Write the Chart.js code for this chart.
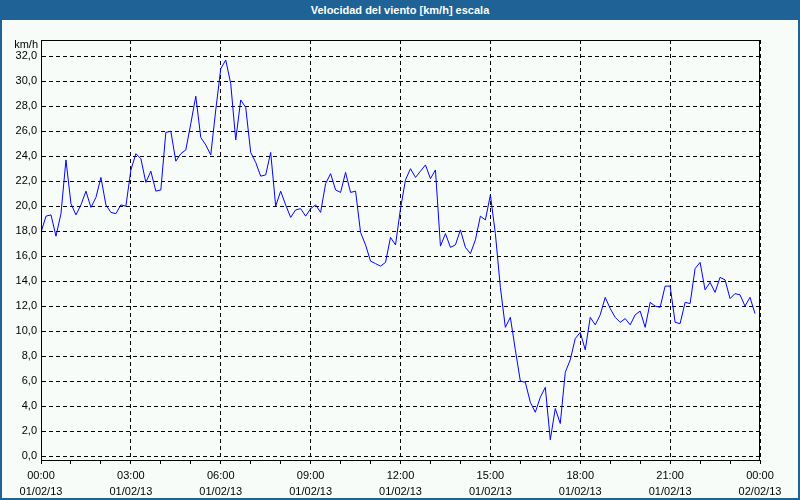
<!DOCTYPE html>
<html>
<head>
<meta charset="utf-8">
<script src="https://cdn.jsdelivr.net/npm/chart.js@4"></script>
<style>
  body { margin: 0; background: #ffffff; }
  #page { position: relative; width: 800px; height: 500px; background: #f8fcf8; overflow: hidden; }
  #title { position: absolute; left: 0; top: 0; width: 800px; height: 20px; background: #1e6296;
           color: #ffffff; font: bold 11px "Liberation Sans", sans-serif; text-align: center; line-height: 21px; }
  #frame { position: absolute; left: 0; top: 20px; width: 796px; height: 478px;
           border-left: 2px solid #1e6296; border-right: 2px solid #1e6296; border-bottom: 2px solid #1e6296; }
  #chart { position: absolute; left: 0; top: 20px; }
</style>
</head>
<body>
<div id="page">
  <div id="title">Velocidad del viento [km/h] escala</div>
  <div id="frame"></div>
  <canvas id="chart" width="800" height="480"></canvas>
</div>
<script>
// wind speed every 10 minutes, 01/02/13 00:00 .. 23:50
const windSpeed = [
  17.9, 19.2, 19.3, 17.6, 19.4, 23.7, 20.2, 19.3, 20.1, 21.2, 19.9, 20.7,
  22.3, 20.1, 19.5, 19.4, 20.1, 20.0, 22.9, 24.2, 23.8, 21.9, 22.8, 21.2,
  21.3, 25.9, 26.0, 23.6, 24.2, 24.5, 26.6, 28.8, 25.5, 24.9, 24.1, 27.7,
  31.0, 31.7, 29.8, 25.3, 28.5, 27.9, 24.3, 23.5, 22.4, 22.5, 24.3, 20.0,
  21.2, 20.1, 19.1, 19.7, 19.8, 19.2, 19.8, 20.1, 19.5, 21.8, 22.6, 21.3,
  21.1, 22.7, 21.1, 21.2, 17.9, 16.9, 15.6, 15.4, 15.2, 15.5, 17.5, 16.9,
  19.8, 22.1, 23.0, 22.3, 22.8, 23.3, 22.2, 22.9, 16.8, 17.8, 16.7, 16.9,
  18.1, 16.7, 16.2, 17.3, 19.2, 18.9, 20.9, 17.8, 13.5, 10.3, 11.1, 8.5,
  6.0, 5.9, 4.3, 3.5, 4.7, 5.5, 1.3, 3.8, 2.6, 6.7, 7.7, 9.4,
  9.9, 8.5, 11.1, 10.5, 11.3, 12.7, 11.8, 11.1, 10.7, 11.0, 10.5, 11.3,
  11.6, 10.3, 12.3, 12.0, 11.9, 13.6, 13.6, 10.7, 10.6, 12.3, 12.2, 15.0,
  15.5, 13.3, 13.9, 13.1, 14.3, 14.1, 12.6, 13.0, 12.9, 12.0, 12.7, 11.4
];
const stepMinutes = 10;
const timeLabels = ['00:00', '03:00', '06:00', '09:00', '12:00', '15:00', '18:00', '21:00', '00:00'];
const dateLabels = ['01/02/13', '01/02/13', '01/02/13', '01/02/13', '01/02/13', '01/02/13', '01/02/13', '01/02/13', '02/02/13'];
const yTicks = [0, 2, 4, 6, 8, 10, 12, 14, 16, 18, 20, 22, 24, 26, 28, 30, 32];

const points = windSpeed.map((v, i) => ({ x: i * stepMinutes, y: v }));

const boxAndUnit = {
  id: 'boxAndUnit',
  afterDraw(chart) {
    const { ctx, chartArea: a } = chart;
    ctx.save();
    ctx.strokeStyle = '#000000';
    ctx.lineWidth = 1;
    ctx.strokeRect(a.left + 0.5, a.top + 0.5, a.right - a.left - 1, a.bottom - a.top);
    ctx.fillStyle = '#000000';
    ctx.font = '11px "Liberation Sans", sans-serif';
    ctx.textAlign = 'right';
    ctx.textBaseline = 'middle';
    ctx.fillText('km/h', 38, a.top + 5);
    ctx.restore();
  }
};

Chart.defaults.font.family = '"Liberation Sans", sans-serif';
Chart.defaults.font.size = 11;
Chart.defaults.color = '#000000';

new Chart(document.getElementById('chart'), {
  type: 'line',
  data: {
    datasets: [{
      data: points,
      borderColor: '#0000ff',
      borderWidth: 1,
      pointRadius: 0,
      tension: 0,
      fill: false
    }]
  },
  options: {
    responsive: false,
    animation: false,
    devicePixelRatio: 1,
    layout: { padding: { left: 0, right: 40, top: 20, bottom: 0 } },
    plugins: { legend: { display: false }, tooltip: { enabled: false } },
    scales: {
      x: {
        type: 'linear',
        min: 0,
        max: 1440,
        afterFit: (scale) => { scale.height = 40; },
        ticks: {
          stepSize: 60,
          autoSkip: false,
          maxRotation: 0,
          padding: 4,
          font: { size: 11, lineHeight: 1.45 },
          callback: (value) => value % 180 === 0 ? [timeLabels[value / 180], dateLabels[value / 180]] : ''
        },
        grid: {
          color: (ctx) => ctx.tick && ctx.tick.value % 180 === 0 ? '#000000' : 'rgba(0,0,0,0)',
          tickColor: '#000000',
          tickLength: 4,
          lineWidth: 1
        },
        border: { display: true, color: '#000000', width: 1, dash: [4, 3] }
      },
      y: {
        min: -0.32,
        max: 33.3,
        afterFit: (scale) => { scale.width = 41; },
        afterBuildTicks: (scale) => { scale.ticks = yTicks.map(v => ({ value: v })); },
        ticks: {
          padding: 4,
          font: { size: 11 },
          callback: (value) => value.toFixed(1).replace('.', ',')
        },
        grid: { color: '#000000', drawTicks: false, lineWidth: 1 },
        border: { display: true, color: '#000000', width: 1, dash: [4, 3] }
      }
    }
  },
  plugins: [boxAndUnit]
});
</script>
</body>
</html>
